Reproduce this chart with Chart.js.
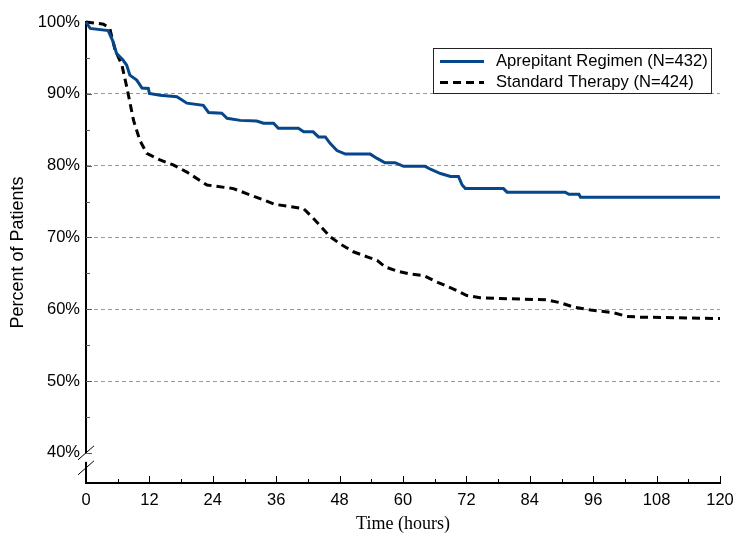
<!DOCTYPE html>
<html>
<head>
<meta charset="utf-8">
<script src="https://cdn.jsdelivr.net/npm/chart.js@4.4.1/dist/chart.umd.min.js"></script>
<style>
  html, body { margin: 0; padding: 0; background: #fff; }
  #wrap { width: 734px; height: 536px; }
</style>
</head>
<body>
<div id="wrap"><canvas id="kmChart" width="734" height="536"></canvas></div>
<script>
// values
const aprepHours = [0, 0.8, 4.2, 5.1, 5.8, 7.0, 7.7, 8.3, 9.6, 10.6, 11.8, 12.0, 14.0, 17.2, 19.1, 22.2, 23.2, 25.7, 26.7, 29.2, 32.3, 33.6, 35.5, 36.4, 40.2, 41.2, 43.0, 44.0, 45.3, 46.2, 47.5, 49.1, 53.8, 55.1, 56.6, 58.5, 60.1, 64.2, 65.2, 67.1, 69.0, 70.5, 71.2, 71.8, 79.0, 79.7, 90.7, 91.4, 93.3, 93.6, 120];
const aprepPct = [100, 99.1, 98.8, 97.3, 95.6, 94.7, 94.0, 92.6, 91.9, 90.8, 90.75, 90.05, 89.8, 89.6, 88.7, 88.4, 87.4, 87.3, 86.6, 86.3, 86.2, 85.9, 85.9, 85.2, 85.2, 84.7, 84.7, 84.0, 84.0, 83.1, 82.1, 81.6, 81.6, 81.0, 80.4, 80.4, 79.9, 79.9, 79.5, 78.9, 78.5, 78.5, 77.3, 76.8, 76.8, 76.3, 76.3, 76.0, 76.0, 75.6, 75.6];

const stdHours = [0, 3.3, 4.5, 5.5, 6.8, 7.7, 9.0, 10.2, 11.5, 14.0, 16.5, 19.1, 22.9, 27.9, 30.4, 35.8, 41.2, 43.1, 46.2, 48.1, 50.6, 53.2, 55.1, 56.6, 58.9, 61.4, 63.9, 65.8, 68.3, 70.2, 72.1, 74.6, 78.4, 87.3, 89.8, 92.3, 95.5, 99.9, 102.4, 104.9, 120];
const stdPct = [100, 99.7, 99.1, 96.1, 94.0, 91.0, 86.3, 83.5, 81.7, 80.8, 80.1, 79.1, 77.3, 76.8, 76.1, 74.6, 74.0, 72.6, 70.1, 69.1, 68.0, 67.3, 66.8, 65.9, 65.3, 64.9, 64.7, 64.0, 63.2, 62.6, 61.9, 61.6, 61.5, 61.3, 60.9, 60.3, 59.9, 59.5, 59.0, 58.9, 58.7];

const seriesLabels = ["Aprepitant Regimen (N=432)", "Standard Therapy (N=424)"];
const xTicks = [0, 12, 24, 36, 48, 60, 72, 84, 96, 108, 120];
const yTicks = [40, 50, 60, 70, 80, 90, 100];

const sans = "'Liberation Sans', Arial, sans-serif";
const serif = "'Liberation Serif', 'Times New Roman', serif";

const toPoints = (xs, ys) => xs.map((x, i) => ({ x: x, y: ys[i] }));

// inner tick marks, axis break and boxed legend
const extras = {
  id: "extras",
  afterDraw(chart) {
    const { ctx, chartArea } = chart;
    const xs = chart.scales.x;
    const ys = chart.scales.y;
    ctx.save();
    ctx.strokeStyle = "#000";
    ctx.lineWidth = 1;
    for (let v = 0; v <= 120; v += 6) {
      const px = Math.round(xs.getPixelForValue(v)) + 0.5;
      const len = v % 12 === 0 ? 7 : 4;
      ctx.beginPath();
      ctx.moveTo(px, chartArea.bottom);
      ctx.lineTo(px, chartArea.bottom - len);
      ctx.stroke();
    }
    ctx.strokeStyle = "#555";
    for (let v = 40; v < 100; v += 5) {
      const py = Math.round(ys.getPixelForValue(v)) + 0.5;
      const len = v % 10 === 0 ? 6 : 4;
      ctx.beginPath();
      ctx.moveTo(chartArea.left, py);
      ctx.lineTo(chartArea.left + len, py);
      ctx.stroke();
    }

    // axis break below 40%
    const y40 = ys.getPixelForValue(40);
    const ax = chartArea.left;
    ctx.fillStyle = "#fff";
    ctx.fillRect(ax - 2, y40 + 1, 4, 8);
    ctx.strokeStyle = "#000";
    ctx.lineWidth = 1;
    ctx.beginPath();
    ctx.moveTo(ax - 8, y40 + 7);
    ctx.lineTo(ax + 8, y40 - 7);
    ctx.moveTo(ax - 8, y40 + 22);
    ctx.lineTo(ax + 8, y40 + 8);
    ctx.stroke();

    // legend
    const bx = 433.5, by = 48.5, bw = 278, bh = 45;
    ctx.fillStyle = "#fff";
    ctx.fillRect(bx, by, bw, bh);
    ctx.strokeStyle = "#222";
    ctx.lineWidth = 1;
    ctx.strokeRect(bx, by, bw, bh);
    ctx.font = "16.6px " + sans;
    ctx.textBaseline = "middle";
    chart.data.datasets.forEach((ds, i) => {
      const ry = 61.5 + i * 21;
      ctx.strokeStyle = ds.borderColor;
      ctx.lineWidth = ds.borderWidth;
      ctx.setLineDash(ds.borderDash || []);
      ctx.beginPath();
      ctx.moveTo(440, ry);
      ctx.lineTo(484, ry);
      ctx.stroke();
      ctx.setLineDash([]);
      ctx.fillStyle = "#000";
      ctx.fillText(ds.label, 496, ry);
    });
    ctx.restore();
  },
};

const chart = new Chart(document.getElementById("kmChart"), {
  type: "line",
  data: {
    datasets: [
      {
        label: seriesLabels[0],
        data: toPoints(aprepHours, aprepPct),
        borderColor: "#06478b",
        borderWidth: 3,
        pointRadius: 0,
        tension: 0,
        clip: 4,
      },
      {
        label: seriesLabels[1],
        data: toPoints(stdHours, stdPct),
        borderColor: "#000",
        borderWidth: 3,
        borderDash: [8, 5],
        pointRadius: 0,
        tension: 0,
        clip: 4,
      },
    ],
  },
  options: {
    responsive: false,
    animation: false,
    layout: { padding: { top: 22, right: 14, left: 0, bottom: 0 } },
    plugins: {
      legend: { display: false },
      tooltip: { enabled: false },
    },
    scales: {
      x: {
        type: "linear",
        min: 0,
        max: 120,
        afterBuildTicks: (scale) => {
          scale.ticks = xTicks.map((v) => ({ value: v }));
        },
        afterFit: (scale) => {
          scale.height = 53;
          scale.paddingLeft = 0;
          scale.paddingRight = 0;
        },
        ticks: {
          font: { family: sans, size: 16.5 },
          color: "#000",
          padding: 8,
          maxRotation: 0,
        },
        grid: { drawOnChartArea: false, drawTicks: false },
        border: { color: "#000", width: 2 },
        title: {
          display: true,
          text: "Time (hours)",
          font: { family: serif, size: 18 },
          color: "#000",
          padding: { top: 0, bottom: 1 },
        },
      },
      y: {
        type: "linear",
        min: 35.8,
        max: 100,
        afterBuildTicks: (scale) => {
          scale.ticks = yTicks.map((v) => ({ value: v }));
        },
        afterFit: (scale) => {
          scale.width = 86;
          scale.paddingTop = 0;
          scale.paddingBottom = 0;
        },
        ticks: {
          font: { family: sans, size: 16.5 },
          color: "#000",
          padding: 6,
          callback: (v) => v + "%",
        },
        grid: {
          drawTicks: false,
          lineWidth: 1,
          color: (c) =>
            c.tick && c.tick.value >= 50 && c.tick.value <= 90 ? "#9a9a9a" : "rgba(0,0,0,0)",
        },
        border: {
          color: "#000",
          width: 2,
          dash: (c) => (c.tick ? [4, 3] : []),
        },
        title: {
          display: true,
          text: "Percent of Patients",
          font: { family: sans, size: 18 },
          color: "#000",
          padding: { top: 7, bottom: 0 },
        },
      },
    },
  },
  plugins: [extras],
});
</script>
</body>
</html>
